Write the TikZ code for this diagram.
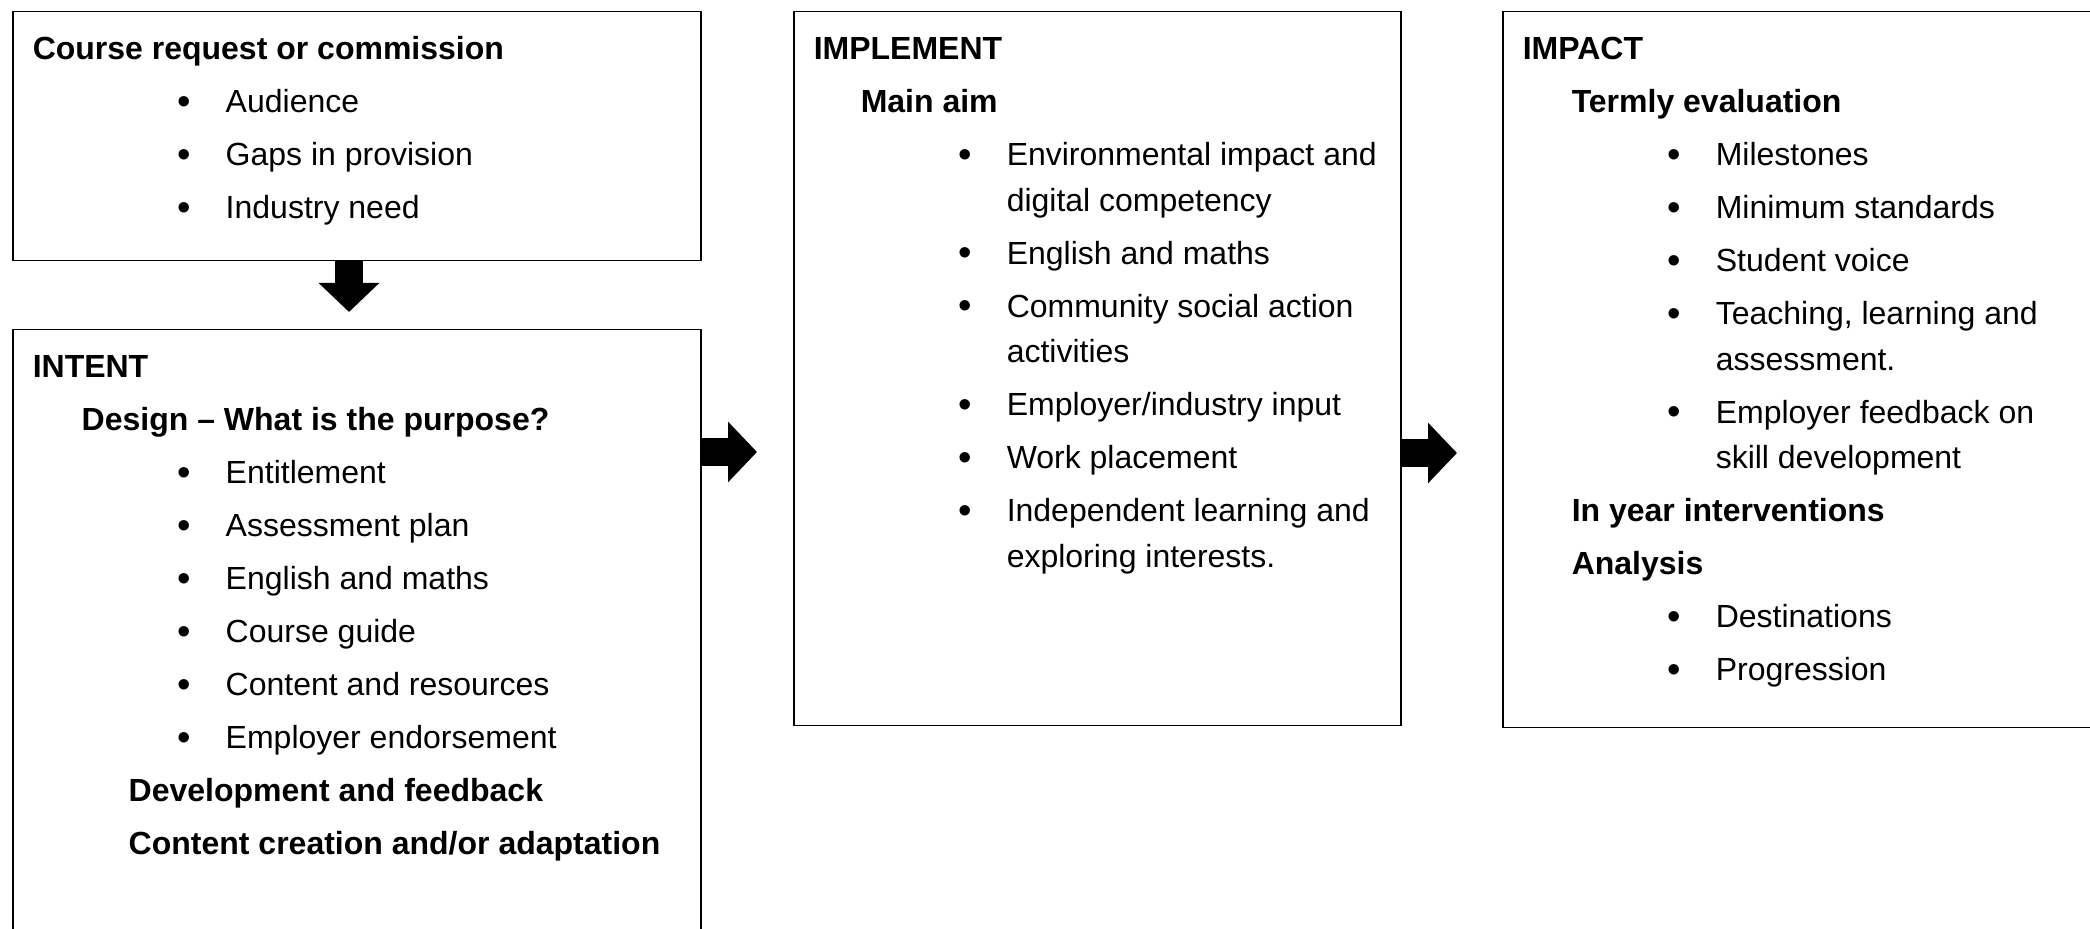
\documentclass[tikz,border=0pt]{standalone}
\usepackage{graphicx}
\usepackage{fontspec}
\setmainfont{Liberation Sans}
\usetikzlibrary{arrows.meta}

\newcommand{\boxtitle}[1]{{\leftskip=10pt\noindent\rule{0pt}{24pt}\textbf{#1}\par}}
\newcommand{\boxhead}[2]{{\leftskip=#1\noindent\textbf{#2}\par}}
\newcommand{\boxitem}[1]{{\leftskip=106.5pt\noindent\llap{\raisebox{-0.8pt}{\scalebox{1.2}{\textbullet}}\hspace{17.6pt}}#1\par}}
\newcommand{\boxbody}[3]{\parbox[t][#2][t]{#1}{\fontsize{16pt}{22.75pt}\selectfont\parindent=0pt\parskip=3.75pt\rightskip=-40pt plus 1fil #3}}

\begin{document}
\begin{tikzpicture}[x=0.5pt, y=-0.5pt]
    \tikzstyle{info box} = [draw=black, line width=0.75pt, inner sep=0pt, anchor=north west]
    \tikzstyle{block arrow} = [draw=black, line width=14.25pt, -{Triangle[width=29.5pt, length=14.5pt]}]
\useasboundingbox (0, 0) rectangle (2090, 929);
\node[info box] (course) at (12, 11) {\boxbody{344pt}{124.5pt}{
    \boxtitle{Course request or commission}
    \boxitem{Audience}
    \boxitem{Gaps in provision}
    \boxitem{Industry need}}};
\node[info box] (intent) at (12, 329) {\boxbody{344pt}{350pt}{
    \boxtitle{INTENT}
    \boxhead{34.5pt}{Design -- What is the purpose?}
    \boxitem{Entitlement}
    \boxitem{Assessment plan}
    \boxitem{English and maths}
    \boxitem{Course guide}
    \boxitem{Content and resources}
    \boxitem{Employer endorsement}
    \boxhead{58pt}{Development and feedback}
    \boxhead{58pt}{Content creation and/or adaptation}}};
\node[info box] (implement) at (793, 11) {\boxbody{303.5pt}{357pt}{
    \boxtitle{IMPLEMENT}
    \boxhead{33.5pt}{Main aim}
    \boxitem{Environmental impact and\\digital competency}
    \boxitem{English and maths}
    \boxitem{Community social action\\activities}
    \boxitem{Employer/industry input}
    \boxitem{Work placement}
    \boxitem{Independent learning and\\exploring interests.}}};
\node[info box] (impact) at (1502, 11) {\boxbody{350pt}{358pt}{
    \boxtitle{IMPACT}
    \boxhead{34.5pt}{Termly evaluation}
    \boxitem{Milestones}
    \boxitem{Minimum standards}
    \boxitem{Student voice}
    \boxitem{Teaching, learning and\\assessment.}
    \boxitem{Employer feedback on\\skill development}
    \boxhead{34.5pt}{In year interventions}
    \boxhead{34.5pt}{Analysis}
    \boxitem{Destinations}
    \boxitem{Progression}}};
\coordinate (d1) at (349, 312);
\coordinate (r1) at (757, 452);
\coordinate (r2) at (1457, 453);
\draw[block arrow] (course.south -| d1) -- (d1);
\draw[block arrow] (intent.east |- r1) -- (r1);
\draw[block arrow] (implement.east |- r2) -- (r2);
\end{tikzpicture}
\end{document}
